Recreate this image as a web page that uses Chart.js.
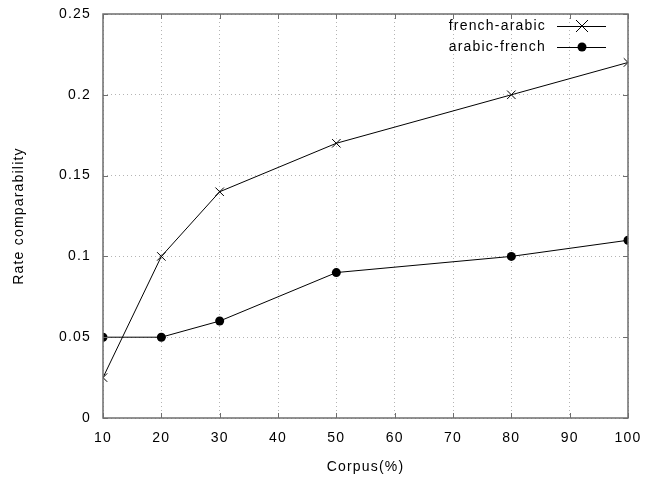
<!DOCTYPE html>
<html>
<head>
<meta charset="utf-8">
<script src="https://cdn.jsdelivr.net/npm/chart.js@4.4.1/dist/chart.umd.min.js"></script>
<style>
  html, body { margin: 0; padding: 0; background: #fff; }
  #wrap { width: 658px; height: 484px; }
</style>
</head>
<body>
<div id="wrap"><canvas id="c" width="658" height="484"></canvas></div>
<script>
// valores
const corpus = [10, 20, 30, 50, 80, 100];
const frenchArabic = [0.025, 0.1, 0.14, 0.17, 0.2, 0.22];
const arabicFrench = [0.05, 0.05, 0.06, 0.09, 0.1, 0.11];
const yTicks = [0, 0.05, 0.1, 0.15, 0.2, 0.25];

const FONT = '"Liberation Sans", Arial, sans-serif';
const FSIZE = 14;
const SPACING = '1.2px';
const AXIS = '#6e6e6e';

const pts = (ys) => corpus.map((x, i) => ({ x, y: ys[i] }));

// texto algo más espaciado, como el render de gnuplot
const spacing = {
  id: 'spacing',
  beforeDraw(chart) { chart.ctx.letterSpacing = SPACING; }
};

// marco estilo gnuplot: borde completo, ticks hacia dentro y leyenda
const gnuFrame = {
  id: 'gnuFrame',
  afterDatasetsDraw(chart) {
    const { ctx, chartArea: a, scales } = chart;
    ctx.save();
    ctx.strokeStyle = AXIS;
    ctx.lineWidth = 1.5;
    ctx.strokeRect(a.left, a.top, a.right - a.left, a.bottom - a.top);
    ctx.lineWidth = 1;
    const len = 5;
    scales.x.ticks.forEach((t) => {
      const px = Math.round(scales.x.getPixelForValue(t.value)) + 0.5;
      ctx.beginPath();
      ctx.moveTo(px, a.bottom); ctx.lineTo(px, a.bottom - len);
      ctx.moveTo(px, a.top); ctx.lineTo(px, a.top + len);
      ctx.stroke();
    });
    scales.y.ticks.forEach((t) => {
      const py = Math.round(scales.y.getPixelForValue(t.value)) + 0.5;
      ctx.beginPath();
      ctx.moveTo(a.left, py); ctx.lineTo(a.left + len, py);
      ctx.moveTo(a.right, py); ctx.lineTo(a.right - len, py);
      ctx.stroke();
    });
    // leyenda
    ctx.font = FSIZE + 'px ' + FONT;
    ctx.letterSpacing = SPACING;
    ctx.fillStyle = '#000';
    ctx.textAlign = 'right';
    ctx.textBaseline = 'middle';
    chart.data.datasets.forEach((ds, i) => {
      const y = a.top + 12 + i * 21;
      ctx.fillText(ds.label, a.right - 82, y);
      ctx.strokeStyle = '#000';
      ctx.lineWidth = 1;
      ctx.beginPath();
      ctx.moveTo(a.right - 71, y + 0.5); ctx.lineTo(a.right - 22, y + 0.5);
      ctx.stroke();
      const cx = a.right - 46;
      if (ds.pointStyle === 'crossRot') {
        const r = 6;
        ctx.beginPath();
        ctx.moveTo(cx - r, y - r); ctx.lineTo(cx + r, y + r);
        ctx.moveTo(cx - r, y + r); ctx.lineTo(cx + r, y - r);
        ctx.stroke();
      } else {
        ctx.beginPath();
        ctx.arc(cx, y, 4.5, 0, Math.PI * 2);
        ctx.fill();
      }
    });
    ctx.restore();
  }
};

new Chart(document.getElementById('c'), {
  type: 'line',
  data: {
    datasets: [
      {
        label: 'french-arabic',
        data: pts(frenchArabic),
        borderColor: '#000', borderWidth: 1,
        pointStyle: 'crossRot', pointRadius: 6, pointBorderWidth: 1,
        pointBorderColor: '#000', pointBackgroundColor: '#000',
        tension: 0
      },
      {
        label: 'arabic-french',
        data: pts(arabicFrench),
        borderColor: '#000', borderWidth: 1,
        pointStyle: 'circle', pointRadius: 4.5, pointBorderWidth: 0,
        pointBackgroundColor: '#000',
        tension: 0
      }
    ]
  },
  options: {
    responsive: false,
    animation: false,
    devicePixelRatio: 1,
    layout: { padding: { top: 14, right: 30, left: 0, bottom: 0 } },
    plugins: { legend: { display: false }, tooltip: { enabled: false } },
    scales: {
      x: {
        type: 'linear', min: 10, max: 100,
        afterFit: (s) => { s.height = 66; s.paddingLeft = 0; s.paddingRight = 0; },
        ticks: { stepSize: 10, color: '#000', font: { family: FONT, size: FSIZE }, padding: 12 },
        grid: { color: '#b4b4b4', drawTicks: false, lineWidth: 1 },
        border: { display: false, dash: [1, 3] },
        title: { display: true, text: 'Corpus(%)', color: '#000', font: { family: FONT, size: FSIZE }, padding: { top: 4, bottom: 8 } }
      },
      y: {
        min: 0, max: 0.25,
        afterFit: (s) => { s.width = 103; s.paddingTop = 0; s.paddingBottom = 0; },
        afterBuildTicks: (s) => { s.ticks = yTicks.map((v) => ({ value: v })); },
        ticks: {
          color: '#000', font: { family: FONT, size: FSIZE }, padding: 12,
          callback: (v) => String(Number(v.toFixed(2)))
        },
        grid: { color: '#b4b4b4', drawTicks: false, lineWidth: 1 },
        border: { display: false, dash: [1, 3] },
        title: { display: true, text: 'Rate comparability', color: '#000', font: { family: FONT, size: FSIZE }, padding: { top: 11, bottom: 4 } }
      }
    }
  },
  plugins: [spacing, gnuFrame]
});
</script>
</body>
</html>
